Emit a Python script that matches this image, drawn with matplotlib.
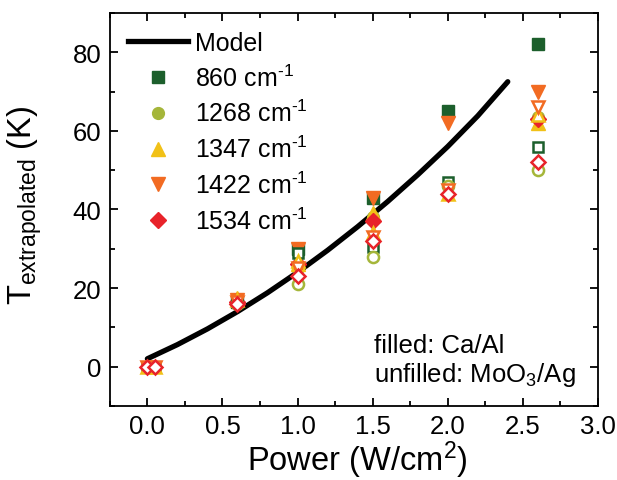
import numpy as np
import matplotlib
matplotlib.use("Agg")
import matplotlib.pyplot as plt
from matplotlib.lines import Line2D

plt.rcParams["font.family"] = ["Liberation Sans", "DejaVu Sans"]
plt.rcParams["mathtext.fontset"] = "custom"
plt.rcParams["mathtext.rm"] = "Liberation Sans"
plt.rcParams["mathtext.it"] = "Liberation Sans:italic"
plt.rcParams["mathtext.bf"] = "Liberation Sans:bold"

# Model curve
model_power = [0.0, 0.2, 0.4, 0.6, 0.8, 1.0, 1.2, 1.4, 1.6, 1.8, 2.0, 2.2, 2.4]
model_temp = [2.0, 5.6, 9.6, 14.0, 18.8, 24.0, 29.6, 35.6, 42.0, 48.8, 56.0, 63.8, 72.5]

# Ca/Al devices (filled markers)
power_caal = [0.6, 1.0, 1.5, 2.0, 2.6]
caal_860 = [16.5, 30, 43, 65, 82]
caal_1268 = [16.5, 25, 38, np.nan, 63.5]
caal_1347 = [17.5, 26, 39, np.nan, 62]
caal_1422 = [17, 30, 43, 62, 70]
caal_1534 = [16.5, 26, 37, np.nan, 63]

# MoO3/Ag devices (unfilled markers)
power_mooag = [0.0, 0.05, 0.6, 1.0, 1.5, 2.0, 2.6]
mooag_860 = [0, 0, 16.5, 29, 30.5, 47, 56]
mooag_1268 = [0, 0, 16, 21, 28, 46, 50]
mooag_1347 = [0, 0, 17, 27, 34, 44, 64]
mooag_1422 = [0, 0, 16.5, 25, 33, 45, 66]
mooag_1534 = [0, 0, 16, 23, 32, 44, 52]

labels = ["860 cm$^{\\text{-}1}$", "1268 cm$^{\\text{-}1}$",
          "1347 cm$^{\\text{-}1}$", "1422 cm$^{\\text{-}1}$",
          "1534 cm$^{\\text{-}1}$"]
colors = ["#1c5f2c", "#a5b63a", "#f1c117", "#f26b22", "#e8232a"]
markers = ["s", "o", "^", "v", "D"]
sizes = [8, 8.5, 9.5, 9.5, 8]

caal = [caal_860, caal_1268, caal_1347, caal_1422, caal_1534]
mooag = [mooag_860, mooag_1268, mooag_1347, mooag_1422, mooag_1534]

fig = plt.figure(figsize=(6.17, 4.81), dpi=100)
ax = fig.add_axes([0.178, 0.154, 0.791, 0.817])

ax.plot(model_power, model_temp, color="black", lw=3.8, solid_capstyle="round",
        zorder=2)

for vals, c, m, s in zip(caal, colors, markers, sizes):
    ax.plot(power_caal, vals, ls="none", marker=m, ms=s, mfc=c, mec=c,
            mew=1.0, zorder=3)
for vals, c, m, s in zip(mooag, colors, markers, sizes):
    ax.plot(power_mooag, vals, ls="none", marker=m, ms=s - 0.5, mfc="white",
            mec=c, mew=1.8, zorder=4)

handles = [Line2D([], [], color="black", lw=3.8, label="Model")]
for lab, c, m, s in zip(labels, colors, markers, sizes):
    handles.append(Line2D([], [], ls="none", marker=m, ms=s, mfc=c, mec=c,
                          label=lab))
ax.legend(handles=handles, loc="upper left", bbox_to_anchor=(0.037, 0.955),
          frameon=False, fontsize=18, handlelength=2.4, handletextpad=0.28,
          labelspacing=0.38, borderpad=0, borderaxespad=0)

ax.text(1.51, 5.5, "filled: Ca/Al", fontsize=18.5, va="center", ha="left")
ax.text(1.51, -2.0, "unfilled: MoO$_3$/Ag", fontsize=18.5, va="center",
        ha="left")

ax.set_xlim(-0.25, 3.0)
ax.set_ylim(-10, 90)
ax.set_xticks([0.0, 0.5, 1.0, 1.5, 2.0, 2.5, 3.0])
ax.set_xticks(np.arange(-0.25, 3.01, 0.25), minor=True)
ax.set_yticks([0, 20, 40, 60, 80])
ax.set_yticks(np.arange(-10, 91, 10), minor=True)
ax.set_xticklabels(["0.0", "0.5", "1.0", "1.5", "2.0", "2.5", "3.0"])
ax.tick_params(which="both", direction="in", top=True, right=True,
               labelsize=18.5, width=1.3)
ax.tick_params(which="major", length=6, pad=6)
ax.tick_params(which="minor", length=3.5)
for sp in ax.spines.values():
    sp.set_linewidth(1.3)

ax.set_xlabel("Power (W/cm$^2$)", fontsize=23.5)
ax.xaxis.set_label_coords(0.507, -0.082)
ax.set_ylabel("T$_{\\mathrm{extrapolated}}$ (K)", fontsize=23.5)
ax.yaxis.set_label_coords(-0.135, 0.514)

fig.savefig("out.png", dpi=100)
